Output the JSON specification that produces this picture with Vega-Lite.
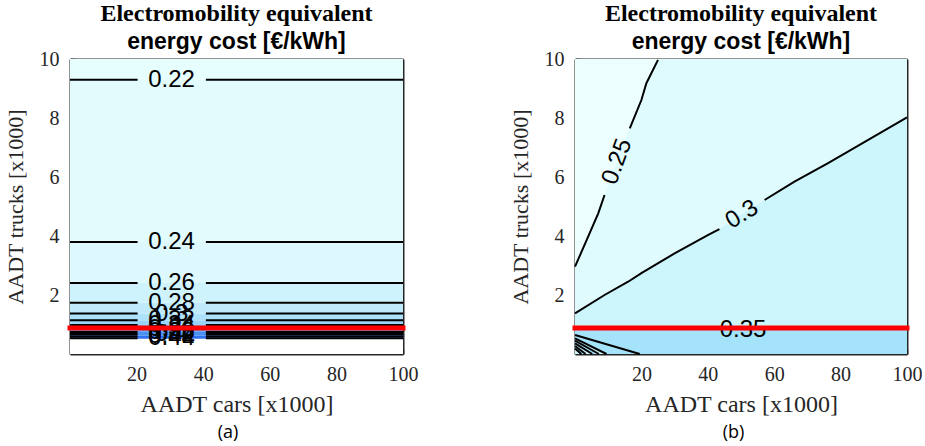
{
  "$schema": "https://vega.github.io/schema/vega-lite/v6.json",
  "background": "white",
  "padding": {"left": 4, "top": 2, "right": 0, "bottom": 0},
  "datasets": {
    "leftBands": [
      {"band": "a00", "lo": 0, "hi": 0.52},
      {"band": "a01", "lo": 0.52, "hi": 0.62},
      {"band": "a02", "lo": 0.62, "hi": 0.75},
      {"band": "a03", "lo": 0.75, "hi": 0.86},
      {"band": "a04", "lo": 0.86, "hi": 0.98},
      {"band": "a05", "lo": 0.98, "hi": 1.14},
      {"band": "a06", "lo": 1.14, "hi": 1.37},
      {"band": "a07", "lo": 1.37, "hi": 1.74},
      {"band": "a08", "lo": 1.74, "hi": 2.41},
      {"band": "a09", "lo": 2.41, "hi": 3.8},
      {"band": "a10", "lo": 3.8, "hi": 9.3},
      {"band": "a11", "lo": 9.3, "hi": 10}
    ],
    "leftLines": [
      {"lvl": "0.22", "xa": 0, "xb": 20.3, "y": 9.3}, {"lvl": "0.22", "xa": 40.8, "xb": 100, "y": 9.3},
      {"lvl": "0.24", "xa": 0, "xb": 20.3, "y": 3.8}, {"lvl": "0.24", "xa": 40.8, "xb": 100, "y": 3.8},
      {"lvl": "0.26", "xa": 0, "xb": 20.3, "y": 2.41}, {"lvl": "0.26", "xa": 40.8, "xb": 100, "y": 2.41},
      {"lvl": "0.28", "xa": 0, "xb": 20.3, "y": 1.74}, {"lvl": "0.28", "xa": 40.8, "xb": 100, "y": 1.74},
      {"lvl": "0.3", "xa": 0, "xb": 20.3, "y": 1.37}, {"lvl": "0.3", "xa": 40.8, "xb": 100, "y": 1.37},
      {"lvl": "0.32", "xa": 0, "xb": 20.3, "y": 1.14}, {"lvl": "0.32", "xa": 40.8, "xb": 100, "y": 1.14},
      {"lvl": "0.34", "xa": 0, "xb": 20.3, "y": 0.98}, {"lvl": "0.34", "xa": 40.8, "xb": 100, "y": 0.98},
      {"lvl": "0.36", "xa": 0, "xb": 20.3, "y": 0.86}, {"lvl": "0.36", "xa": 40.8, "xb": 100, "y": 0.86},
      {"lvl": "0.38", "xa": 0, "xb": 20.3, "y": 0.75}, {"lvl": "0.38", "xa": 40.8, "xb": 100, "y": 0.75},
      {"lvl": "0.4", "xa": 0, "xb": 20.3, "y": 0.68}, {"lvl": "0.4", "xa": 40.8, "xb": 100, "y": 0.68},
      {"lvl": "0.42", "xa": 0, "xb": 20.3, "y": 0.6}, {"lvl": "0.42", "xa": 40.8, "xb": 100, "y": 0.6},
      {"lvl": "0.44", "xa": 0, "xb": 20.3, "y": 0.53}, {"lvl": "0.44", "xa": 40.8, "xb": 100, "y": 0.53}
    ],
    "leftLabels": [
      {"label": "0.22", "x": 30.5, "y": 9.3},
      {"label": "0.24", "x": 30.5, "y": 3.8},
      {"label": "0.26", "x": 30.5, "y": 2.41},
      {"label": "0.28", "x": 30.5, "y": 1.74},
      {"label": "0.3", "x": 30.5, "y": 1.37},
      {"label": "0.32", "x": 30.5, "y": 1.14},
      {"label": "0.34", "x": 30.5, "y": 0.98},
      {"label": "0.36", "x": 30.5, "y": 0.86},
      {"label": "0.38", "x": 30.5, "y": 0.75},
      {"label": "0.4", "x": 30.5, "y": 0.68},
      {"label": "0.42", "x": 30.5, "y": 0.6},
      {"label": "0.44", "x": 30.5, "y": 0.53}
    ],
    "threshold": [{"trucks": 0.88}],
    "rightBands": [
      {"band": "b0", "lo": 0, "hi": 0.87},
      {"band": "b1", "lo": 0.87, "hi": 10}
    ],
    "r30full": [
      {"x": 0, "y": 1.38}, {"x": 8.9, "y": 2.0}, {"x": 16, "y": 2.45}, {"x": 20, "y": 2.74},
      {"x": 30, "y": 3.41}, {"x": 40, "y": 4.03}, {"x": 43.5, "y": 4.23}, {"x": 50.3, "y": 4.73},
      {"x": 57.1, "y": 5.22}, {"x": 66.1, "y": 5.84}, {"x": 76.1, "y": 6.46}, {"x": 100, "y": 8.02}
    ],
    "r25full": [
      {"x": 0, "y": 2.96}, {"x": 3.5, "y": 3.86}, {"x": 7, "y": 4.77}, {"x": 8.9, "y": 5.39},
      {"x": 12.7, "y": 6.52}, {"x": 16.5, "y": 7.65}, {"x": 20, "y": 8.61}, {"x": 21.5, "y": 9.18},
      {"x": 25, "y": 9.97}
    ],
    "fans": [
      {"fan": "f1", "x": 0, "y": 0.645}, {"fan": "f1", "x": 19.5, "y": 0},
      {"fan": "f2", "x": 0, "y": 0.53}, {"fan": "f2", "x": 9.5, "y": 0},
      {"fan": "f3", "x": 0, "y": 0.45}, {"fan": "f3", "x": 7.2, "y": 0},
      {"fan": "f4", "x": 0, "y": 0.36}, {"fan": "f4", "x": 5.2, "y": 0},
      {"fan": "f5", "x": 0, "y": 0.27}, {"fan": "f5", "x": 3.2, "y": 0},
      {"fan": "f6", "x": 0, "y": 0.19}, {"fan": "f6", "x": 1.9, "y": 0}
    ],
    "rightLines": [
      {"seg": "c25a", "x": 0, "y": 2.96}, {"seg": "c25a", "x": 3.5, "y": 3.86}, {"seg": "c25a", "x": 7, "y": 4.77}, {"seg": "c25a", "x": 8.9, "y": 5.39},
      {"seg": "c25b", "x": 16.5, "y": 7.65}, {"seg": "c25b", "x": 20, "y": 8.61}, {"seg": "c25b", "x": 21.5, "y": 9.18}, {"seg": "c25b", "x": 25, "y": 9.97},
      {"seg": "c30a", "x": 0, "y": 1.38}, {"seg": "c30a", "x": 8.9, "y": 2.0}, {"seg": "c30a", "x": 16, "y": 2.45}, {"seg": "c30a", "x": 20, "y": 2.74},
      {"seg": "c30a", "x": 30, "y": 3.41}, {"seg": "c30a", "x": 40, "y": 4.03}, {"seg": "c30a", "x": 43.5, "y": 4.23},
      {"seg": "c30b", "x": 57.1, "y": 5.22}, {"seg": "c30b", "x": 66.1, "y": 5.84}, {"seg": "c30b", "x": 76.1, "y": 6.46}, {"seg": "c30b", "x": 100, "y": 8.02},
      {"seg": "c35a", "x": 0, "y": 0.87}, {"seg": "c35a", "x": 42.5, "y": 0.87},
      {"seg": "c35b", "x": 58.5, "y": 0.87}, {"seg": "c35b", "x": 100, "y": 0.87},
      {"seg": "f1", "x": 0, "y": 0.645}, {"seg": "f1", "x": 19.5, "y": 0},
      {"seg": "f2", "x": 0, "y": 0.53}, {"seg": "f2", "x": 9.5, "y": 0},
      {"seg": "f3", "x": 0, "y": 0.45}, {"seg": "f3", "x": 7.2, "y": 0},
      {"seg": "f4", "x": 0, "y": 0.36}, {"seg": "f4", "x": 5.2, "y": 0},
      {"seg": "f5", "x": 0, "y": 0.27}, {"seg": "f5", "x": 3.2, "y": 0},
      {"seg": "f6", "x": 0, "y": 0.19}, {"seg": "f6", "x": 1.9, "y": 0}
    ],
    "rightLabels": [
      {"label": "0.25", "x": 12.7, "y": 6.52},
      {"label": "0.3", "x": 50.3, "y": 4.73},
      {"label": "0.35", "x": 50.6, "y": 0.8}
    ]
  },
  "spacing": 91,
  "resolve": {"scale": {"color": "independent", "x": "independent", "y": "independent"}},
  "hconcat": [
    {
      "title": {"text": "(a)", "orient": "bottom", "font": "Open Sans", "fontSize": 18, "fontWeight": "normal", "color": "#000000", "dx": 17, "offset": 8},
      "vconcat": [
        {
          "width": 333,
          "height": 295,
          "title": {"text": "Electromobility equivalent", "subtitle": "\u00a0\u00a0\u00a0\u00a0energy cost [€/kWh]"},
          "resolve": {"axis": {"x": "independent", "y": "independent"}},
          "layer": [
            {
              "data": {"name": "leftBands"},
              "mark": {"type": "rect"},
              "encoding": {
                "x": {"datum": 0, "type": "quantitative", "scale": {"domain": [0, 100], "nice": false, "zero": false},
                      "axis": {"orient": "bottom", "values": [20, 40, 60, 80, 100], "title": "AADT cars [x1000]", "labelPadding": 15, "titlePadding": 8, "titleFontSize": 24}},
                "x2": {"datum": 100},
                "y": {"field": "lo", "type": "quantitative", "scale": {"domain": [0, 10], "nice": false, "zero": false},
                      "axis": {"orient": "left", "values": [2, 4, 6, 8, 10], "title": "AADT trucks [x1000]", "labelPadding": 16, "titlePadding": 12}},
                "y2": {"field": "hi"},
                "color": {"field": "band", "type": "nominal", "legend": null,
                  "scale": {"domain": ["a00","a01","a02","a03","a04","a05","a06","a07","a08","a09","a10","a11"],
                            "range": ["#ffffff","#2f72f0","#4a90f3","#6aacf5","#86c6f7","#9ad5f8","#ade2fa","#bfeafb","#cff3fc","#ddf9fd","#e2fcfd","#e7fefe"]}}
              }
            },
            {
              "data": {"name": "leftLines"},
              "mark": {"type": "rule", "color": "#000000", "strokeWidth": 2},
              "encoding": {
                "x": {"field": "xa", "type": "quantitative", "axis": {"orient": "top", "values": [20, 40, 60, 80], "labels": false, "title": null}},
                "x2": {"field": "xb"},
                "y": {"field": "y", "type": "quantitative", "axis": {"orient": "right", "values": [2, 4, 6, 8], "labels": false, "title": null}}
              }
            },
            {
              "data": {"name": "leftLabels"},
              "mark": {"type": "text", "font": "Liberation Sans", "fontSize": 24, "color": "#000000", "align": "center", "baseline": "middle"},
              "encoding": {
                "x": {"field": "x", "type": "quantitative", "axis": null},
                "y": {"field": "y", "type": "quantitative", "axis": null},
                "text": {"field": "label"}
              }
            },
            {
              "data": {"name": "threshold"},
              "mark": {"type": "rule", "color": "#ff0000", "strokeWidth": 5, "strokeCap": "square"},
              "encoding": {
                "x": {"datum": 0, "type": "quantitative", "axis": null},
                "x2": {"datum": 100},
                "y": {"field": "trucks", "type": "quantitative", "axis": null}
              }
            }
          ]
        }
      ]
    },
    {
      "title": {"text": "(b)", "orient": "bottom", "font": "Open Sans", "fontSize": 18, "fontWeight": "normal", "color": "#000000", "dx": 18, "offset": 8},
      "vconcat": [
        {
          "width": 332,
          "height": 295,
          "title": {"text": "Electromobility equivalent", "subtitle": "\u00a0\u00a0\u00a0\u00a0energy cost [€/kWh]"},
          "resolve": {"axis": {"x": "independent", "y": "independent"}},
          "layer": [
            {
              "data": {"name": "rightBands"},
              "mark": {"type": "rect"},
              "encoding": {
                "x": {"datum": 0, "type": "quantitative", "scale": {"domain": [0, 100], "nice": false, "zero": false},
                      "axis": {"orient": "bottom", "values": [20, 40, 60, 80, 100], "title": "AADT cars [x1000]", "labelPadding": 15, "titlePadding": 8, "titleFontSize": 24}},
                "x2": {"datum": 100},
                "y": {"field": "lo", "type": "quantitative", "scale": {"domain": [0, 10], "nice": false, "zero": false},
                      "axis": {"orient": "left", "values": [2, 4, 6, 8, 10], "title": "AADT trucks [x1000]", "labelPadding": 16, "titlePadding": 12}},
                "y2": {"field": "hi"},
                "color": {"field": "band", "type": "nominal", "legend": null,
                  "scale": {"domain": ["b0", "b1"], "range": ["#a4e3fa", "#cdf5fc"]}}
              }
            },
            {
              "data": {"name": "r30full"},
              "mark": {"type": "area", "color": "#e0fbfd", "interpolate": "linear"},
              "encoding": {
                "x": {"field": "x", "type": "quantitative", "axis": null},
                "y": {"field": "y", "type": "quantitative", "axis": null, "stack": null},
                "y2": {"datum": 10}
              }
            },
            {
              "data": {"name": "r25full"},
              "mark": {"type": "area", "color": "#ecfefe", "interpolate": "linear"},
              "encoding": {
                "x": {"field": "x", "type": "quantitative", "axis": null},
                "y": {"field": "y", "type": "quantitative", "axis": null, "stack": null},
                "y2": {"datum": 10}
              }
            },
            {
              "data": {"name": "fans"},
              "mark": {"type": "area", "interpolate": "linear"},
              "encoding": {
                "x": {"field": "x", "type": "quantitative", "axis": null},
                "y": {"field": "y", "type": "quantitative", "axis": null, "stack": null},
                "y2": {"datum": 0},
                "color": {"field": "fan", "type": "nominal", "legend": null,
                  "scale": {"domain": ["f1","f2","f3","f4","f5","f6"], "range": ["#92d8f9","#7fc8f7","#6ab4f5","#559ef3","#4288f0","#ffffff"]}}
              }
            },
            {
              "data": {"name": "rightLines"},
              "mark": {"type": "line", "color": "#000000", "strokeWidth": 2, "interpolate": "linear"},
              "encoding": {
                "x": {"field": "x", "type": "quantitative", "axis": {"orient": "top", "values": [20, 40, 60, 80], "labels": false, "title": null}},
                "y": {"field": "y", "type": "quantitative", "axis": {"orient": "right", "values": [2, 4, 6, 8], "labels": false, "title": null}},
                "detail": {"field": "seg", "type": "nominal"}
              }
            },
            {
              "data": {"name": "rightLabels"},
              "transform": [{"filter": "datum.label === '0.25'"}],
              "mark": {"type": "text", "font": "Liberation Sans", "fontSize": 24, "color": "#000000", "align": "center", "baseline": "middle", "angle": 290},
              "encoding": {
                "x": {"field": "x", "type": "quantitative", "axis": null},
                "y": {"field": "y", "type": "quantitative", "axis": null},
                "text": {"field": "label"}
              }
            },
            {
              "data": {"name": "rightLabels"},
              "transform": [{"filter": "datum.label === '0.3'"}],
              "mark": {"type": "text", "font": "Liberation Sans", "fontSize": 24, "color": "#000000", "align": "center", "baseline": "middle", "angle": 328},
              "encoding": {
                "x": {"field": "x", "type": "quantitative", "axis": null},
                "y": {"field": "y", "type": "quantitative", "axis": null},
                "text": {"field": "label"}
              }
            },
            {
              "data": {"name": "rightLabels"},
              "transform": [{"filter": "datum.label === '0.35'"}],
              "mark": {"type": "text", "font": "Liberation Sans", "fontSize": 24, "color": "#000000", "align": "center", "baseline": "middle"},
              "encoding": {
                "x": {"field": "x", "type": "quantitative", "axis": null},
                "y": {"field": "y", "type": "quantitative", "axis": null},
                "text": {"field": "label"}
              }
            },
            {
              "data": {"name": "threshold"},
              "mark": {"type": "rule", "color": "#ff0000", "strokeWidth": 5, "strokeCap": "square"},
              "encoding": {
                "x": {"datum": 0, "type": "quantitative", "axis": null},
                "x2": {"datum": 100},
                "y": {"field": "trucks", "type": "quantitative", "axis": null}
              }
            }
          ]
        }
      ]
    }
  ],
  "config": {
    "view": {"stroke": null},
    "axis": {
      "labelFont": "Liberation Serif", "labelFontSize": 20, "labelColor": "#262626",
      "titleFont": "Liberation Serif", "titleFontSize": 22, "titleFontWeight": "normal", "titleColor": "#262626",
      "tickColor": "#262626", "tickSize": -5, "tickWidth": 1.5,
      "domainColor": "#262626", "domainWidth": 2,
      "grid": false, "zindex": 1, "labelFlush": false, "labelOverlap": false,
      "labelPadding": 14, "titlePadding": 6
    },
    "title": {
      "font": "Liberation Serif", "fontSize": 24, "fontWeight": "bold", "color": "#000000",
      "subtitleFont": "Liberation Sans", "subtitleFontSize": 23, "subtitleFontWeight": "bold", "subtitleColor": "#000000",
      "subtitlePadding": 5, "anchor": "middle", "offset": -5
    }
  }
}
